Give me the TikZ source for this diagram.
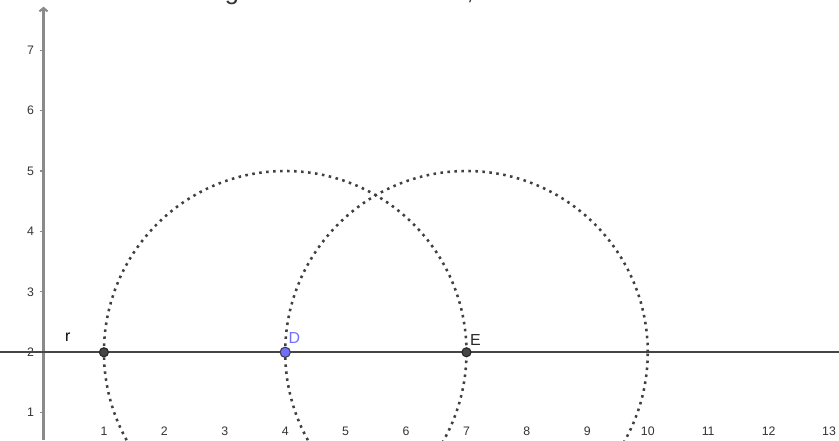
\documentclass[tikz,border=0pt]{standalone}
\usepackage{fontspec}
\setmainfont{Liberation Sans}
\usetikzlibrary{arrows.meta}
\definecolor{axisGrey}{HTML}{8A8A8A}
\definecolor{lineDark}{HTML}{454545}
\definecolor{dotGrey}{HTML}{404040}
\definecolor{ptBlue}{HTML}{7070FF}
\definecolor{labelGrey}{HTML}{333333}

\begin{document}
\begin{tikzpicture}[font=\fontsize{5.8}{7}\selectfont,
    axis/.style={axisGrey, line width=1pt},
    arcline/.style={dotGrey, line width=1.2pt, dash pattern=on 1.2pt off 2.1pt},
    ptdark/.style={circle, draw=black!85, line width=0.5pt, fill=lineDark,
                   inner sep=0pt, minimum size=0.15cm},
    lbl/.style={font=\fontsize{7.5}{9}\selectfont, inner sep=0pt}]
    \useasboundingbox (-0.72,0.545) rectangle (13.165,7.83);
    \clip (-0.72,0.545) rectangle (13.165,7.83);
    % cut-off text above the picture
    \node[font=\fontsize{12}{14}\selectfont, anchor=base, text=labelGrey] (topg) at (3.12,7.84) {g};
    \node[font=\fontsize{12}{14}\selectfont, anchor=base, text=labelGrey] (topc) at (7.06,7.84) {,};
    % y axis
    \coordinate (yBot) at (0,0.545);
    \coordinate (yTop) at (0,7.72);
    \draw[axis, -{Straight Barb[length=1.6pt, width=3.8pt]}] (yBot) -- (yTop);
    \foreach \y in {1,...,7} {
      \draw[axisGrey, line width=0.5pt] (-0.06,\y) -- (0,\y);
      \node[anchor=east, inner sep=2.6pt, text=labelGrey] (yl\y) at (-0.06,\y) {\y};
    }
    \foreach \x in {1,...,13}
      \node[text=labelGrey] (xl\x) at (\x,0.69) {\x};
    % line r
    \coordinate (rL) at (-0.72,2);
    \coordinate (rR) at (13.165,2);
    \draw[lineDark, line width=1pt] (rL) -- (rR);
    \node[lbl, text=black] (rlabel) at (0.4,2.25) {r};
    % circles around D and E
    \coordinate (D) at (4,2);
    \coordinate (E) at (7,2);
    \draw[arcline] (D) circle[radius=3];
    \draw[arcline] (E) circle[radius=3];
    % points
    \node[ptdark] (ptA) at (1,2) {};
    \node[ptdark] (ptE) at (E) {};
    \node[circle, draw=black!75, line width=0.5pt, fill=ptBlue, inner sep=0pt,
          minimum size=0.17cm] (ptD) at (D) {};
    \node[lbl, text=ptBlue] (lD) at (4.15,2.24) {D};
    \node[lbl, text=black!85] (lE) at (7.15,2.21) {E};
\end{tikzpicture}
\end{document}
